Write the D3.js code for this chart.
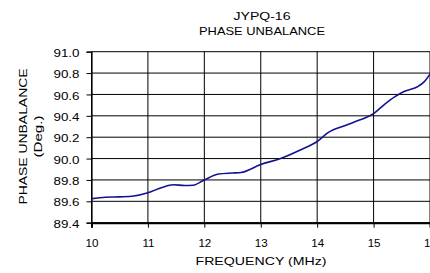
<!DOCTYPE html>
<html><head><meta charset="utf-8">
<script src="https://cdn.jsdelivr.net/npm/d3@7"></script>
<style>body{margin:0;background:#fff}svg{display:block}text{font-family:"Liberation Sans",Arial,sans-serif;fill:#000}</style>
</head><body><svg id="c" width="430" height="273"></svg>
<script>
const titleLines = ["JYPQ-16", "PHASE UNBALANCE"];
const xTitle = "FREQUENCY (MHz)";
const yTitleLines = ["PHASE UNBALANCE", "(Deg.)"];
const xTicks = [10, 11, 12, 13, 14, 15, 16];
const yTicks = [89.4, 89.6, 89.8, 90.0, 90.2, 90.4, 90.6, 90.8, 91.0];
const freq = [10.0,10.25,10.5,10.75,11.0,11.25,11.45,11.65,11.8,12.0,12.25,12.5,12.65,13.0,13.35,13.7,14.0,14.2,14.5,14.75,15.0,15.2,15.38,15.55,15.77,15.9,16.0];
const phase = [89.625,89.638,89.642,89.650,89.680,89.730,89.755,89.748,89.750,89.800,89.855,89.865,89.870,89.945,90.000,90.080,90.160,90.245,90.310,90.360,90.420,90.510,90.580,90.630,90.670,90.720,90.790];

const svg = d3.select("#c");
const L = 91.5, R = 430, T = 51.7, B = 222.7;
const x = d3.scaleLinear().domain([10, 16]).range([L, R]);
const y = d3.scaleLinear().domain([89.4, 91.0]).range([B, T]);
const FS = 11.6;

const g = svg.append("g");
g.selectAll(".hg").data(yTicks).join("line")
  .attr("x1", L).attr("x2", R).attr("y1", d => y(d)).attr("y2", d => y(d))
  .attr("stroke", "#000").attr("stroke-width", 1);
g.selectAll(".vg").data(xTicks).join("line")
  .attr("x1", d => x(d)).attr("x2", d => x(d)).attr("y1", T).attr("y2", B)
  .attr("stroke", "#000").attr("stroke-width", 1);

const yAxis = d3.axisLeft(y).tickValues(yTicks).tickFormat(d3.format(".1f")).tickSize(5).tickPadding(7);
const ya = svg.append("g").attr("transform", `translate(${L},0)`).call(yAxis);
ya.select(".domain").attr("stroke", "#000").attr("stroke-width", 1.2);
ya.selectAll("text").attr("font-size", FS).attr("font-family", "Liberation Sans, Arial, sans-serif")
  .attr("fill", "#000").attr("dy", "0.4em").attr("textLength", 26).attr("lengthAdjust", "spacingAndGlyphs");
ya.selectAll(".tick line").attr("stroke", "#000");

const xAxis = d3.axisBottom(x).tickValues(xTicks).tickFormat(d3.format("d")).tickSize(5).tickPadding(11);
const xa = svg.append("g").attr("transform", `translate(0,${B})`).call(xAxis);
xa.select(".domain").attr("stroke", "#000").attr("stroke-width", 2);
xa.selectAll("text").attr("font-size", FS).attr("font-family", "Liberation Sans, Arial, sans-serif").attr("fill", "#000");
xa.selectAll(".tick line").attr("stroke", "#000");

const line = d3.line().x((d, i) => x(freq[i])).y(d => y(d)).curve(d3.curveMonotoneX);
svg.append("path").datum(phase).attr("d", line)
  .attr("fill", "none").attr("stroke", "#12128f").attr("stroke-width", 1.6);

const titleW = [57, 126];
svg.selectAll(".tt").data(titleLines).join("text")
  .attr("x", 262).attr("y", (d, i) => 20 + i * 14.5)
  .attr("text-anchor", "middle").attr("font-size", FS)
  .attr("textLength", (d, i) => titleW[i]).attr("lengthAdjust", "spacingAndGlyphs").text(d => d);
svg.append("text").attr("x", 261).attr("y", 265).attr("text-anchor", "middle")
  .attr("font-size", FS).attr("textLength", 131).attr("lengthAdjust", "spacingAndGlyphs").text(xTitle);
const yTitleW = [136, 42];
svg.selectAll(".yt").data(yTitleLines).join("text")
  .attr("transform", (d, i) => `translate(${26.5 + i * 15.5},136.5) rotate(-90)`)
  .attr("text-anchor", "middle").attr("font-size", FS)
  .attr("textLength", (d, i) => yTitleW[i]).attr("lengthAdjust", "spacingAndGlyphs").text(d => d);
</script></body></html>
